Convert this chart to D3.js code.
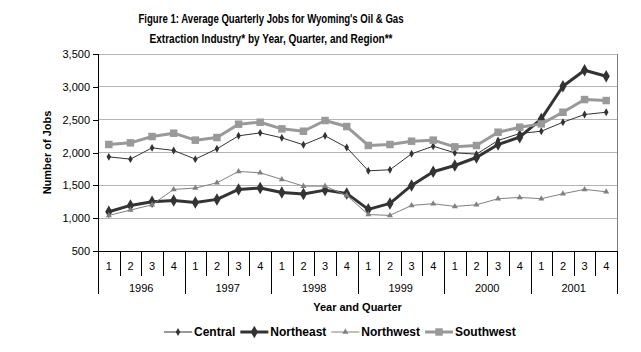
<!DOCTYPE html>
<html>
<head>
<meta charset="utf-8">
<script src="https://cdn.jsdelivr.net/npm/d3@7"></script>
<style>
  body { margin: 0; background: #fff; }
  svg text { font-family: "Liberation Sans", Arial, sans-serif; fill: #000; }
</style>
</head>
<body>
<div id="chart"></div>
<script>
// Data
const years = ["1996", "1997", "1998", "1999", "2000", "2001"];
const quarters = ["1", "2", "3", "4"];
const yTicks = [500, 1000, 1500, 2000, 2500, 3000, 3500];

const central   = [1934, 1899, 2071, 2031, 1899, 2056, 2254, 2299, 2223, 2117, 2254, 2076,
                   1721, 1737, 1980, 2096, 1995, 1975, 2183, 2289, 2324, 2461, 2578, 2613];
const northeast = [1098, 1194, 1250, 1270, 1240, 1286, 1438, 1458, 1392, 1367, 1427, 1377,
                   1134, 1225, 1498, 1706, 1802, 1924, 2122, 2233, 2512, 3009, 3252, 3161];
const northwest = [1042, 1123, 1204, 1438, 1458, 1539, 1711, 1691, 1590, 1488, 1488, 1346,
                   1055, 1042, 1194, 1220, 1179, 1204, 1296, 1316, 1296, 1372, 1438, 1402];
const southwest = [2122, 2147, 2243, 2294, 2188, 2228, 2431, 2461, 2360, 2324, 2487, 2395,
                   2107, 2122, 2172, 2188, 2086, 2107, 2309, 2385, 2436, 2613, 2806, 2791];

const series = [
    { name: "Central",   values: central,   color: "#333333", width: 1, symbol: d3.symbolDiamond,  size: 18 },
    { name: "Northeast", values: northeast, color: "#333333", width: 3, symbol: d3.symbolDiamond,  size: 45 },
    { name: "Northwest", values: northwest, color: "#808080", width: 1, symbol: d3.symbolTriangle, size: 16 },
    { name: "Southwest", values: southwest, color: "#999999", width: 3, symbol: d3.symbolSquare,   size: 56 }
];

const width = 641, height = 352;
const plot = { left: 98, right: 617, top: 54, bottom: 251 };

const svg = d3.select("#chart").append("svg")
    .attr("width", width)
    .attr("height", height);

svg.append("rect").attr("width", width).attr("height", height).attr("fill", "#fff");

// Title
const titleLines = [
    { text: "Figure 1: Average Quarterly Jobs for Wyoming's Oil & Gas", y: 23, len: 265 },
    { text: "Extraction Industry* by Year, Quarter, and Region**", y: 43, len: 243 }
];
svg.selectAll(".title")
    .data(titleLines)
    .enter().append("text")
    .attr("class", "title")
    .attr("x", 271)
    .attr("y", d => d.y)
    .attr("text-anchor", "middle")
    .attr("font-size", 12)
    .attr("font-weight", "bold")
    .attr("textLength", d => d.len)
    .attr("lengthAdjust", "spacingAndGlyphs")
    .text(d => d.text);

// Scales
const idx = d3.range(years.length * quarters.length);
const x = d3.scaleBand().domain(idx).range([plot.left, plot.right]);
const y = d3.scaleLinear().domain([500, 3500]).range([plot.bottom, plot.top]);

// Gridlines
svg.append("g")
    .selectAll("line")
    .data(yTicks.slice(1))
    .enter().append("line")
    .attr("x1", plot.left).attr("x2", plot.right)
    .attr("y1", d => y(d)).attr("y2", d => y(d))
    .attr("stroke", "#b4b4b4")
    .attr("shape-rendering", "crispEdges");

// Plot area border (right side)
svg.append("line")
    .attr("x1", plot.right).attr("x2", plot.right)
    .attr("y1", plot.top).attr("y2", plot.bottom)
    .attr("stroke", "#808080")
    .attr("shape-rendering", "crispEdges");

// Y axis
const yAxis = d3.axisLeft(y)
    .tickValues(yTicks)
    .tickSize(5)
    .tickPadding(3)
    .tickFormat(d3.format(","));

const yG = svg.append("g")
    .attr("transform", `translate(${plot.left},0)`)
    .call(yAxis);
yG.select(".domain").remove();
yG.selectAll("line").attr("stroke", "#000").attr("shape-rendering", "crispEdges");
yG.selectAll("text")
    .attr("font-size", 11)
    .attr("font-family", "\"Liberation Sans\", Arial, sans-serif");

svg.append("line")
    .attr("x1", plot.left).attr("x2", plot.left)
    .attr("y1", plot.top).attr("y2", 294)
    .attr("stroke", "#000")
    .attr("shape-rendering", "crispEdges");

svg.append("text")
    .attr("transform", `translate(51,${(plot.top + plot.bottom) / 2}) rotate(-90)`)
    .attr("text-anchor", "middle")
    .attr("font-size", 11)
    .attr("font-weight", "bold")
    .text("Number of Jobs");

// X axis (two level categories)
svg.append("line")
    .attr("x1", plot.left).attr("x2", plot.right)
    .attr("y1", plot.bottom).attr("y2", plot.bottom)
    .attr("stroke", "#000")
    .attr("shape-rendering", "crispEdges");

const bounds = d3.range(idx.length + 1);
svg.append("g")
    .selectAll("line")
    .data(bounds)
    .enter().append("line")
    .attr("x1", d => Math.round(plot.left + d * x.bandwidth()) + 0.5)
    .attr("x2", d => Math.round(plot.left + d * x.bandwidth()) + 0.5)
    .attr("y1", plot.bottom)
    .attr("y2", d => d % 4 === 0 ? 294 : 276)
    .attr("stroke", "#000");

svg.append("g")
    .selectAll("text")
    .data(idx)
    .enter().append("text")
    .attr("x", d => x(d) + x.bandwidth() / 2)
    .attr("y", 270)
    .attr("text-anchor", "middle")
    .attr("font-size", 11)
    .text(d => quarters[d % 4]);

svg.append("g")
    .selectAll("text")
    .data(years)
    .enter().append("text")
    .attr("x", (d, i) => x(i * 4) + x.bandwidth() * 2)
    .attr("y", 292)
    .attr("text-anchor", "middle")
    .attr("font-size", 11)
    .text(d => d);

svg.append("text")
    .attr("x", (plot.left + plot.right) / 2)
    .attr("y", 311)
    .attr("text-anchor", "middle")
    .attr("font-size", 11)
    .attr("font-weight", "bold")
    .text("Year and Quarter");

// Lines
const line = d3.line()
    .x((d, i) => x(i) + x.bandwidth() / 2)
    .y(d => y(d));

series.forEach(s => {
    const g = svg.append("g").attr("class", "series");
    g.append("path")
        .datum(s.values)
        .attr("d", line)
        .attr("fill", "none")
        .attr("stroke", s.color)
        .attr("stroke-width", s.width)
        .attr("stroke-linejoin", "round");
    g.selectAll("path.marker")
        .data(s.values)
        .enter().append("path")
        .attr("class", "marker")
        .attr("d", d3.symbol().type(s.symbol).size(s.size))
        .attr("transform", (d, i) => `translate(${x(i) + x.bandwidth() / 2},${y(d)})`)
        .attr("fill", s.color);
});

// Legend
const legend = svg.append("g").attr("class", "legend");
let lx = 164;
const ly = 332;
series.forEach(s => {
    const item = legend.append("g");
    item.append("line")
        .attr("x1", lx).attr("x2", lx + 28)
        .attr("y1", ly).attr("y2", ly)
        .attr("stroke", s.color)
        .attr("stroke-width", s.width);
    item.append("path")
        .attr("d", d3.symbol().type(s.symbol).size(s.size))
        .attr("transform", `translate(${lx + 14},${ly})`)
        .attr("fill", s.color);
    const t = item.append("text")
        .attr("x", lx + 30)
        .attr("y", ly + 4)
        .attr("font-size", 12)
        .attr("font-weight", "bold")
        .text(s.name);
    lx += 30 + t.node().getComputedTextLength() + 5;
});
</script>
</body>
</html>
